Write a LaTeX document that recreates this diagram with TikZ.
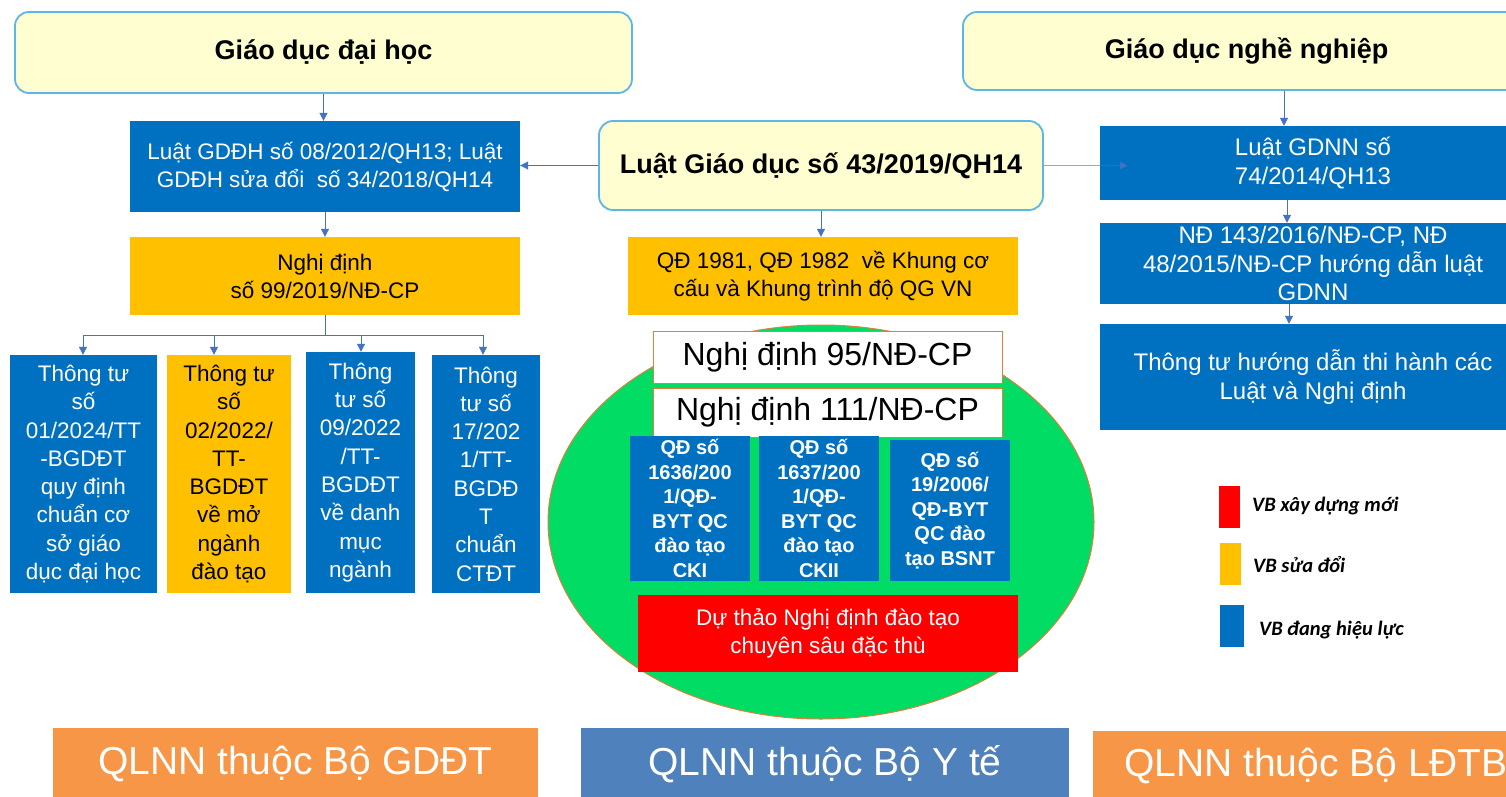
\documentclass[tikz,border=0pt]{standalone}
\usepackage{fontspec}
\setmainfont{Liberation Sans}
\newfontfamily\legfont{Carlito}
\usetikzlibrary{arrows.meta,calc,shapes.geometric}
\definecolor{vbblue}{HTML}{0070C0}
\definecolor{vborange}{HTML}{FFC000}
\definecolor{vbred}{HTML}{FF0000}
\definecolor{yfill}{HTML}{FEFED0}
\definecolor{ybord}{HTML}{5BB7E6}
\definecolor{arrcol}{HTML}{4472C4}
\definecolor{ovgreen}{HTML}{00DC64}
\definecolor{ovedge}{HTML}{E0803A}
\definecolor{qorange}{HTML}{F79646}
\definecolor{qblue}{HTML}{4F81BD}
\newcommand{\fs}[2]{\fontsize{#1}{#2}\selectfont}
\begin{document}
\begin{tikzpicture}[x=1pt,y=-1pt,
  titlebox/.style={draw=ybord, line width=1.8pt, fill=yfill, rounded corners=14pt, inner sep=0pt, font=\bfseries\fs{27}{32}},
  bluebox/.style={fill=vbblue, text=white, inner sep=0pt, align=center},
  orbox/.style={fill=vborange, text=black, inner sep=0pt, align=center},
  redbox/.style={fill=vbred, text=white, inner sep=0pt, align=center},
  whitebox/.style={draw=ovedge, line width=1pt, fill=white, inner sep=0pt, font=\fs{32}{36}},
  qdbox/.style={bluebox, font=\bfseries\fs{20}{24.5}, minimum width=120pt},
  ttbox/.style={inner sep=0pt, align=center, font=\fs{22.5}{28.3}},
  legbox/.style={inner sep=0pt, minimum width=21pt, minimum height=42pt},
  legtext/.style={anchor=west, inner sep=0pt, font=\legfont\bfseries\itshape\fs{20.5}{24}},
  qlnn/.style={inner sep=0pt, text=white, font=\fs{39}{44}, minimum height=73pt},
  arr/.style={draw=arrcol, line width=1pt, -{Triangle[length=8pt,width=8pt]}},
  ln/.style={draw=arrcol, line width=1pt}
]
\useasboundingbox (0,0) rectangle (1506,797);
\clip (0,0) rectangle (1506,797);
\fill[white] (0,0) rectangle (1506,797);

% ---- left column ----
\node[titlebox, minimum width=617pt, minimum height=81pt] (gdh) at (323.5,52.5) {Giáo dục đại học};
\node[bluebox, minimum width=390pt, minimum height=91pt, font=\fs{22.5}{28}] (b1) at (325,166.5)
  {Luật GDĐH số 08/2012/QH13; Luật\\GDĐH sửa đổi\ \ số 34/2018/QH14};
\node[orbox, minimum width=390pt, minimum height=78pt, font=\fs{22.5}{28}] (o1) at (325,276)
  {Nghị định\\số 99/2019/NĐ-CP};

\node[ttbox, fill=vbblue, text=white, minimum width=147pt, minimum height=238pt] (t1) at (83.5,474)
  {Thông tư\\số\\01/2024/TT\\-BGDĐT\\quy định\\chuẩn cơ\\sở giáo\\dục đại học};
\node[ttbox, fill=vborange, text=black, minimum width=124pt, minimum height=238pt] (t2) at (229,474)
  {Thông tư\\số\\02/2022/\\TT-\\BGDĐT\\về mở\\ngành\\đào tạo};
\node[ttbox, fill=vbblue, text=white, minimum width=109pt, minimum height=241pt] (t3) at (360.5,472.5)
  {Thông\\tư số\\09/2022\\/TT-\\BGDĐT\\về danh\\mục\\ngành};
\node[ttbox, fill=vbblue, text=white, minimum width=108pt, minimum height=238pt] (t4) at (486,474)
  {Thông\\tư số\\17/202\\1/TT-\\BGDĐ\\T\\chuẩn\\CTĐT};

\draw[arr] (gdh.south) -- (gdh.south |- b1.north);
\draw[arr] (b1.south) -- (b1.south |- o1.north);
\coordinate (bus) at (325,335);
\coordinate (k1) at (83,335);
\coordinate (k2) at (214,335);
\coordinate (k3) at (361,335);
\coordinate (k4) at (483,335);
\draw[ln] (o1.south) -- (bus);
\draw[ln] (k1) -- (k4);
\draw[arr] (k1) -- (k1 |- t1.north);
\draw[arr] (k2) -- (k2 |- t2.north);
\draw[arr] (k3) -- (k3 |- t3.north);
\draw[arr] (k4) -- (k4 |- t4.north);

% ---- centre column ----
\node[titlebox, minimum width=444pt, minimum height=89pt] (ldgd) at (821,165.5) {Luật Giáo dục số 43/2019/QH14};
\node[orbox, minimum width=390pt, minimum height=78pt, font=\fs{22.5}{28}] (o2) at (823,276)
  {QĐ 1981, QĐ 1982\ \ về Khung cơ\\cấu và Khung trình độ QG VN};
\draw[arr] (ldgd.south) -- (ldgd.south |- o2.north);

\node[draw=ovedge, line width=1pt, fill=ovgreen, ellipse, minimum width=546pt, minimum height=394pt, inner sep=0pt] (ov) at (821,522) {};
\node[whitebox, minimum width=349pt, minimum height=52pt] (w1) at (827.5,357) {Nghị định 95/NĐ-CP};
\node[whitebox, minimum width=349pt, minimum height=49pt] (w2) at (827.5,412.5) {Nghị định 111/NĐ-CP};
\node[qdbox, minimum height=145pt] (q1) at (690,508.5) {QĐ số\\1636/200\\1/QĐ-\\BYT QC\\đào tạo\\CKI};
\node[qdbox, minimum height=145pt] (q2) at (819,508.5) {QĐ số\\1637/200\\1/QĐ-\\BYT QC\\đào tạo\\CKII};
\node[qdbox, minimum height=141pt] (q3) at (950,510.5) {QĐ số\\19/2006/\\QĐ-BYT\\QC đào\\tạo BSNT};
\node[redbox, minimum width=380pt, minimum height=77pt, font=\fs{22.5}{28}] (rd) at (828,633.5)
  {Dự thảo Nghị định đào tạo\\chuyên sâu đặc thù};

% ---- right column ----
\node[titlebox, minimum width=567pt, minimum height=78pt] (gdnn) at (1246.5,51) {Giáo dục nghề nghiệp};
\node[bluebox, minimum width=426pt, minimum height=74pt, font=\fs{24}{28.5}] (r1) at (1313,163)
  {Luật GDNN số\\74/2014/QH13};
\node[bluebox, minimum width=426pt, minimum height=81pt, font=\fs{24}{28.5}] (r2) at (1313,263.5)
  {NĐ 143/2016/NĐ-CP, NĐ\\48/2015/NĐ-CP hướng dẫn luật\\GDNN};
\node[bluebox, minimum width=426pt, minimum height=106pt, font=\fs{24}{28.5}] (r3) at (1313,377)
  {Thông tư hướng dẫn thi hành các\\Luật và Nghị định};
\draw[arr] ([xshift=37.5pt]gdnn.south) -- ([xshift=37.5pt]gdnn.south |- r1.north);
\draw[arr] ([xshift=-26pt]r1.south) -- ([xshift=-26pt]r1.south |- r2.north);
\draw[arr] ([xshift=-24pt]r2.south) -- ([xshift=-24pt]r2.south |- r3.north);

\draw[arr] (ldgd.west) -- (ldgd.west -| b1.east);
\draw[arr, draw opacity=0.6] (ldgd.east) -- ([xshift=28pt]ldgd.east -| r1.west);

% ---- legend ----
\node[legbox, fill=vbred] (lr) at (1229.5,507) {};
\node[legbox, fill=vborange] (lo) at (1230.5,564) {};
\node[legbox, fill=vbblue, minimum width=24pt] (lb) at (1232,626) {};
\node[legtext] (lrt) at (1252,506) {VB xây dựng mới};
\node[legtext] (lot) at (1253,565) {VB sửa đổi};
\node[legtext] (lbt) at (1259,630) {VB đang hiệu lực};

% ---- bottom ----
\node[qlnn, fill=qorange, minimum width=485pt] (qg) at (295.5,764) {QLNN thuộc Bộ GDĐT};
\node[qlnn, fill=qblue, minimum width=488pt] (qy) at (825,764) {QLNN thuộc Bộ Y tế};
\node[qlnn, fill=qorange, minimum width=500pt, minimum height=70pt] (ql) at (1343,766) {QLNN thuộc Bộ LĐTBXH};
\end{tikzpicture}
\end{document}
